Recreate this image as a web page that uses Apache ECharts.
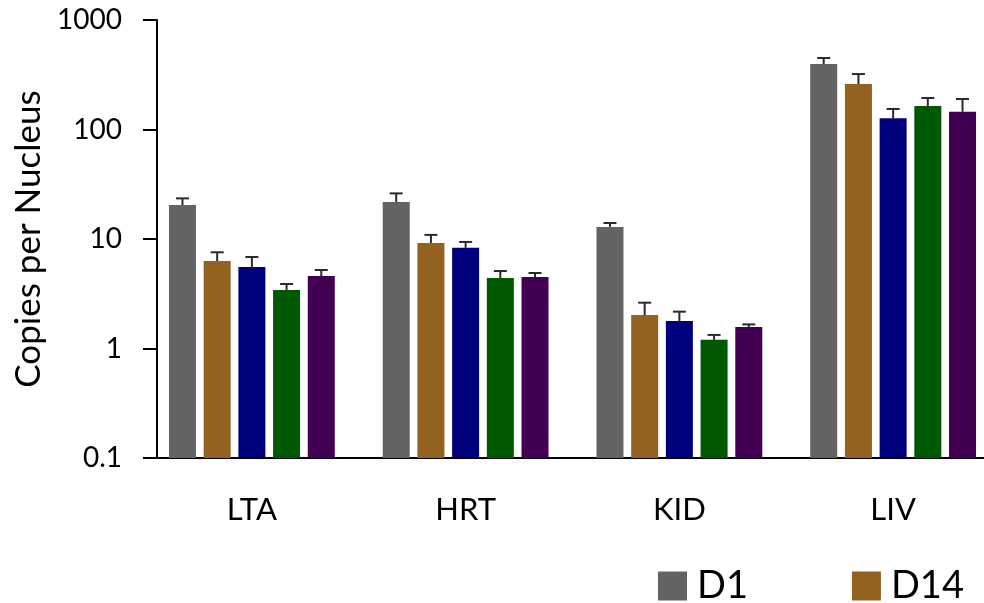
<!DOCTYPE html>
<html>
<head>
<meta charset="utf-8">
<script src="https://cdn.jsdelivr.net/npm/echarts@6/dist/echarts.min.js"></script>
<style>
  html, body { margin: 0; padding: 0; background: #fff; overflow: hidden; }
  /* the plot area continues a little past the right edge of the window */
  #chart { width: 1000px; height: 603px; }
</style>
</head>
<body>
<div id="chart"></div>
<script>
// Tissue groups along the x axis
const categories = ['LTA', 'HRT', 'KID', 'LIV'];
// Time points (one bar series each)
const seriesNames = ['D1', 'D14', 'D28', 'D56', 'D90'];
const seriesColors = ['#636363', '#93621f', '#00007c', '#005800', '#420052'];

// Mean copies per nucleus, per tissue
const d1Mean  = [20.4, 21.8, 12.9, 396];
const d14Mean = [6.3, 9.2, 2.02, 260];
const d28Mean = [5.55, 8.3, 1.78, 127];
const d56Mean = [3.42, 4.4, 1.2, 164];
const d90Mean = [4.59, 4.5, 1.57, 145];

// Upper error (SD) per tissue
const d1Sd  = [3.1, 4.3, 1.1, 54];
const d14Sd = [1.26, 1.7, 0.6, 61];
const d28Sd = [1.3, 1.1, 0.39, 27];
const d56Sd = [0.46, 0.7, 0.13, 30];
const d90Sd = [0.62, 0.39, 0.09, 45];

// Y axis tick values
const yTicks = [0.1, 1, 10, 100, 1000];

const means = [d1Mean, d14Mean, d28Mean, d56Mean, d90Mean];
const sds = [d1Sd, d14Sd, d28Sd, d56Sd, d90Sd];

const BAR_W = 27;
const PITCH = 34.7;
const FONT = 'Lato';

// Bars are drawn from the bottom of the log axis (0.1) up to the mean
const barSeries = seriesNames.map((name, i) => ({
  name: name,
  type: 'custom',
  z: 2,
  itemStyle: { color: seriesColors[i] },
  encode: { x: 0, y: 1 },
  data: categories.map((c, k) => [k, means[i][k]]),
  renderItem: function (params, api) {
    const top = api.coord([api.value(0), api.value(1)]);
    const base = api.coord([api.value(0), yTicks[0]]);
    const x = top[0] + (i - 2) * PITCH;
    return {
      type: 'rect',
      shape: { x: x - BAR_W / 2, y: top[1], width: BAR_W, height: base[1] - top[1] },
      style: { fill: seriesColors[i] }
    };
  }
}));

// Upper error bars with caps
const errSeries = seriesNames.map((name, i) => ({
  name: name + ' SD',
  type: 'custom',
  z: 3,
  silent: true,
  encode: { x: 0, y: [1, 2] },
  data: categories.map((c, k) => [k, means[i][k], means[i][k] + sds[i][k]]),
  renderItem: function (params, api) {
    const base = api.coord([api.value(0), api.value(1)]);
    const top = api.coord([api.value(0), api.value(2)]);
    const x = base[0] + (i - 2) * PITCH;
    const half = 6.5;
    const style = { stroke: '#2a2a2a', lineWidth: 2 };
    return {
      type: 'group',
      children: [
        { type: 'line', shape: { x1: x, y1: base[1], x2: x, y2: top[1] }, style: style },
        { type: 'line', shape: { x1: x - half, y1: top[1], x2: x + half, y2: top[1] }, style: style }
      ]
    };
  }
}));

const chart = echarts.init(document.getElementById('chart'), null, { renderer: 'canvas' });
chart.setOption({
  animation: false,
  backgroundColor: '#ffffff',
  textStyle: { fontFamily: FONT },
  grid: { left: 145, right: 0, top: 20, bottom: 145, containLabel: false },
  legend: {
    data: seriesNames,
    left: 658,
    top: 567,
    padding: 0,
    width: 3000,
    itemWidth: 29,
    itemHeight: 29,
    itemGap: 104,
    icon: 'rect',
    textStyle: { fontFamily: FONT, fontSize: 38, color: '#000', padding: [0, 0, 0, 5] }
  },
  xAxis: {
    type: 'category',
    data: categories,
    axisLine: { lineStyle: { color: '#000', width: 2 } },
    axisTick: { alignWithLabel: true, length: 12, lineStyle: { color: '#000', width: 2 } },
    axisLabel: { fontFamily: FONT, fontSize: 31, color: '#000', margin: 36 }
  },
  yAxis: {
    type: 'log',
    logBase: 10,
    min: yTicks[0],
    max: yTicks[yTicks.length - 1],
    offset: -12,
    name: 'Copies per Nucleus',
    nameLocation: 'middle',
    nameGap: 97,
    nameTextStyle: { fontFamily: FONT, fontSize: 35, color: '#000' },
    splitLine: { show: false },
    axisLine: { show: true, lineStyle: { color: '#000', width: 2 } },
    axisTick: { show: true, length: 14, lineStyle: { color: '#000', width: 2 } },
    axisLabel: {
      fontFamily: FONT, fontSize: 28, color: '#000', margin: 35,
      formatter: function (v) { return String(+v.toPrecision(3)); }
    }
  },
  series: barSeries.concat(errSeries)
});
</script>
</body>
</html>
